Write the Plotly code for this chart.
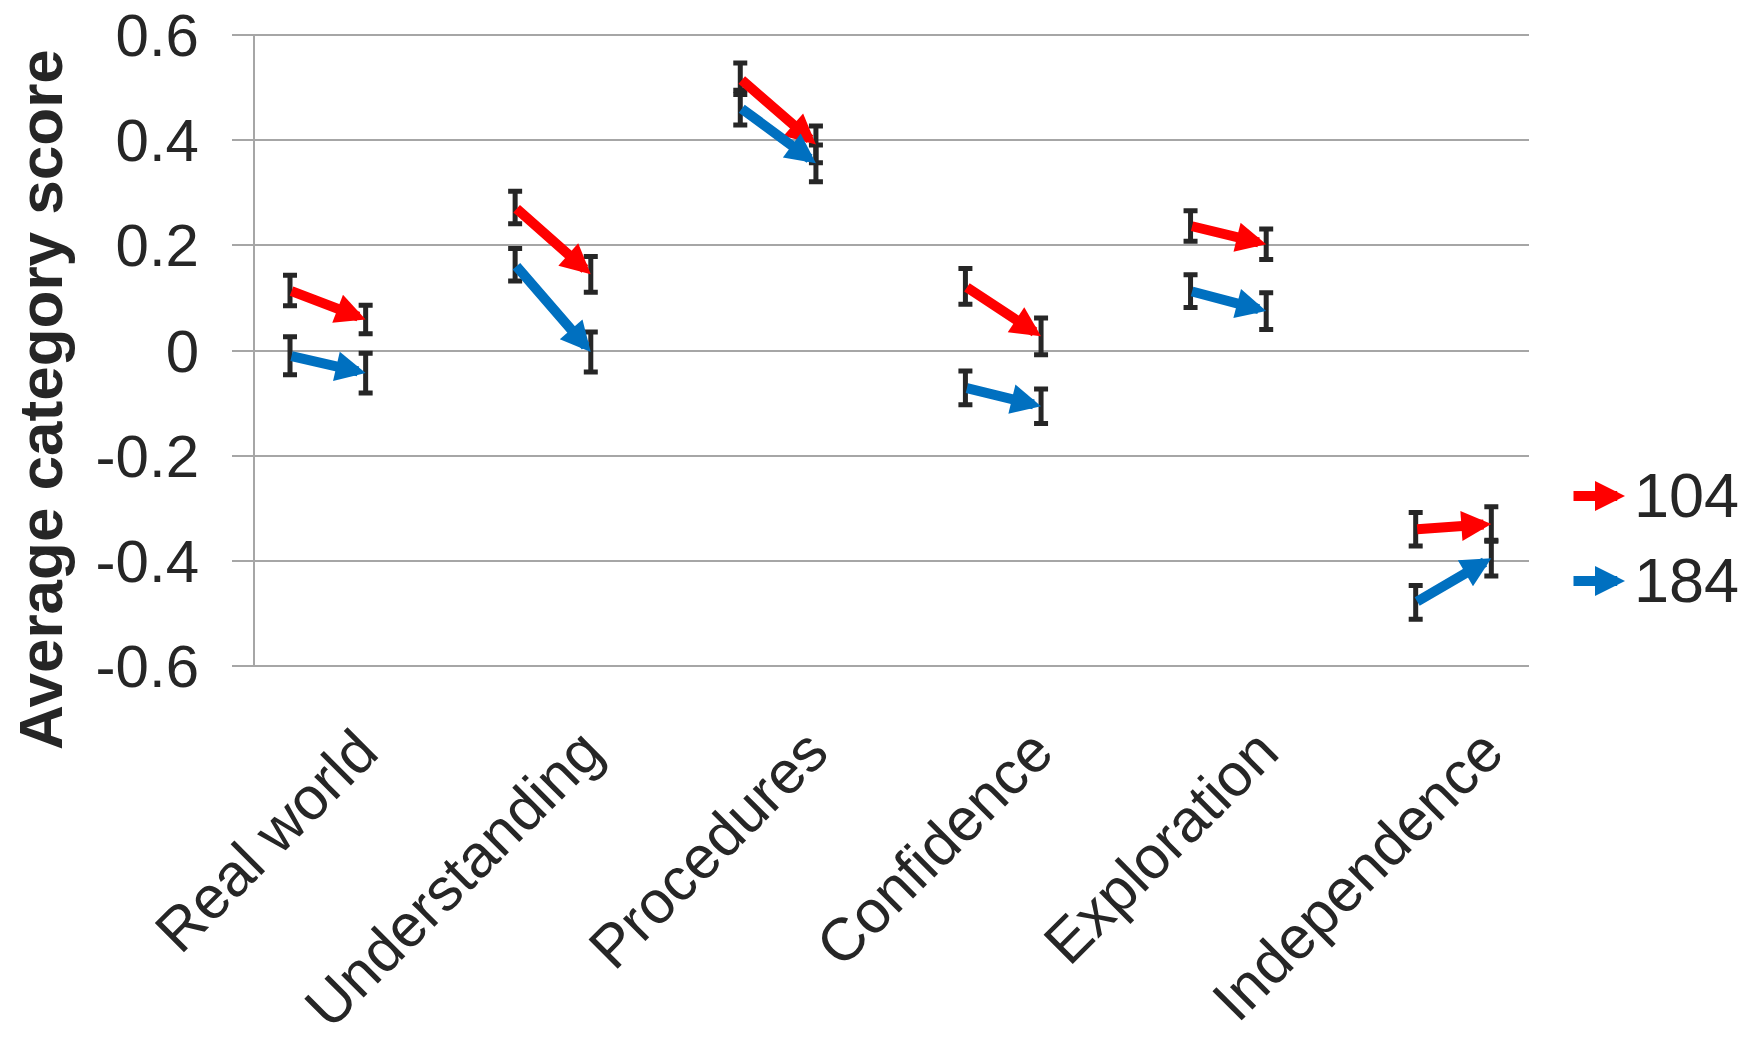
import plotly.graph_objects as go

categories = ["Real world", "Understanding", "Procedures", "Confidence", "Exploration", "Independence"]
series_names = ["104", "184"]

red_pre = [0.114, 0.272, 0.517, 0.122, 0.237, -0.340]
red_post = [0.059, 0.145, 0.392, 0.027, 0.202, -0.330]
blue_pre = [-0.010, 0.163, 0.462, -0.071, 0.113, -0.479]
blue_post = [-0.043, -0.003, 0.356, -0.106, 0.075, -0.395]

red_pre_err = [0.029, 0.031, 0.030, 0.034, 0.029, 0.032]
red_post_err = [0.027, 0.034, 0.035, 0.035, 0.029, 0.033]
blue_pre_err = [0.036, 0.031, 0.033, 0.032, 0.031, 0.032]
blue_post_err = [0.038, 0.038, 0.035, 0.033, 0.035, 0.034]

y_tick_vals = [0.6, 0.4, 0.2, 0, -0.2, -0.4, -0.6]
y_tick_text = ["0.6", "0.4", "0.2", "0", "-0.2", "-0.4", "-0.6"]

RED = "#ff0000"
BLUE = "#0070c0"
GRID = "#a6a6a6"
TXT = "#262626"
FONT = "Liberation Sans, Arial, sans-serif"
POST_OFFSET = 0.336
LABEL_OFFSET = 0.31

# figure geometry (body margin removed in the page)
W, H = 1750, 1045
ML, MT = 255, 34
PW, PH = 1274, 633
MR = W - ML - PW
MB = H - MT - PH

x_pre = [i + 1 for i in range(len(categories))]
x_post = [x + POST_OFFSET for x in x_pre]

fig = go.Figure()

for xs, ys, errs in [(x_pre, red_pre, red_pre_err), (x_post, red_post, red_post_err),
                     (x_pre, blue_pre, blue_pre_err), (x_post, blue_post, blue_post_err)]:
    fig.add_trace(go.Scatter(
        x=xs, y=ys, mode="markers",
        marker=dict(size=1, color="rgba(0,0,0,0)"),
        error_y=dict(type="data", array=errs, symmetric=True, color=TXT, thickness=5, width=7),
        showlegend=False, hoverinfo="skip"))

annotations = []
for color, pre, post in [(RED, red_pre, red_post), (BLUE, blue_pre, blue_post)]:
    for i in range(len(categories)):
        annotations.append(dict(
            x=x_post[i], y=post[i], ax=x_pre[i], ay=pre[i],
            xref="x", yref="y", axref="x", ayref="y",
            text="", showarrow=True, arrowhead=2, arrowsize=0.6,
            arrowwidth=10, arrowcolor=color, standoff=0, startstandoff=0))


def px_to_paper_x(px_page):
    return (px_page - ML) / PW


def px_to_paper_y(py_page):
    return (MT + PH - py_page) / PH


# legend
for name, color, ypix in [(series_names[0], RED, 496), (series_names[1], BLUE, 581)]:
    annotations.append(dict(
        x=px_to_paper_x(1625), y=px_to_paper_y(ypix), xref="paper", yref="paper",
        ax=-53, ay=0, text="", showarrow=True, arrowhead=2, arrowsize=0.6,
        arrowwidth=10, arrowcolor=color, standoff=0))
    annotations.append(dict(
        x=px_to_paper_x(1632), y=px_to_paper_y(ypix - 1), xref="paper", yref="paper",
        text=name, showarrow=False, xanchor="left", yanchor="middle",
        font=dict(family=FONT, size=63, color=TXT)))

# y title
annotations.append(dict(
    x=px_to_paper_x(40), y=px_to_paper_y(400), xref="paper", yref="paper",
    text="<b>Average category score</b>", textangle=-90, showarrow=False,
    xanchor="center", yanchor="middle",
    font=dict(family=FONT, size=62, color=TXT)))

fig.update_layout(
    template="none",
    width=W, height=H,
    margin=dict(l=ML, r=MR, t=MT, b=MB, pad=0),
    paper_bgcolor="white", plot_bgcolor="white",
    showlegend=False,
    annotations=annotations,
    font=dict(family=FONT, color=TXT),
)
fig.update_xaxes(
    automargin=False,
    range=[0.8445, 6.5033], showgrid=False, zeroline=False, showline=False,
    tickmode="array", tickvals=[x + LABEL_OFFSET for x in x_pre], ticktext=categories,
    tickangle=-45, ticks="", ticklabelstandoff=36, ticklabeloverflow="allow",
    tickfont=dict(family=FONT, size=60, color=TXT))
fig.update_yaxes(
    automargin=False,
    range=[-0.602, 0.602], tickmode="array", tickvals=y_tick_vals, ticktext=y_tick_text,
    showgrid=True, gridcolor=GRID, gridwidth=2, zeroline=False,
    showline=True, linecolor=GRID, linewidth=2,
    ticks="outside", ticklen=21, tickcolor=GRID, tickwidth=2,
    ticklabelstandoff=21, ticklabeloverflow="allow",
    tickfont=dict(family=FONT, size=60, color=TXT))

fig.write_html(
    "out.html",
    config={"displayModeBar": False},
    post_script="document.body.style.margin='0';document.body.style.overflow='hidden';")
